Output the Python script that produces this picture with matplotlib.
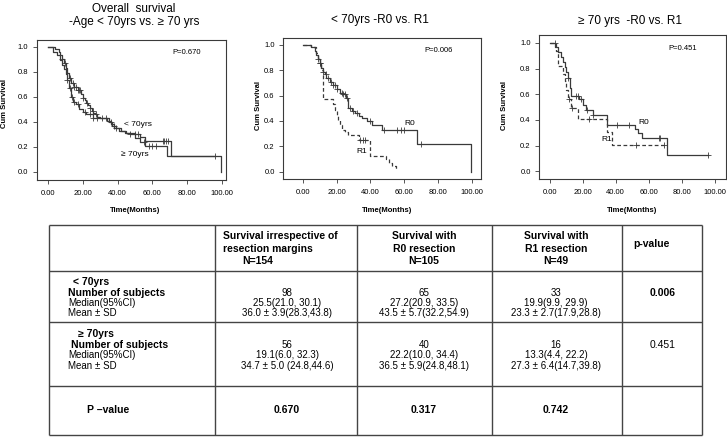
import matplotlib
matplotlib.use("Agg")
import matplotlib.pyplot as plt
import numpy as np

plt.rcParams['font.family'] = ['Liberation Sans', 'DejaVu Sans']

###DATA: ------------------------------------------------------------------------------------
# Kaplan-Meier steps (time in months, cum survival after the step)
# panel 1: overall survival by age
lt70_t = [0, 4, 6, 7, 8, 9, 10, 11, 12, 13, 15, 17, 19, 20, 21, 22, 23, 24, 25, 26,
          27, 28, 30, 35, 37, 39, 42, 44, 47, 53, 56, 70.5, 99.5]
lt70_s = [1.0, 0.98, 0.96, 0.93, 0.90, 0.87, 0.83, 0.79, 0.75, 0.71, 0.68, 0.65, 0.62, 0.59,
          0.57, 0.55, 0.53, 0.51, 0.49, 0.47, 0.46, 0.44, 0.43, 0.40, 0.37, 0.35, 0.33, 0.31,
          0.30, 0.28, 0.245, 0.13, 0.0]
lt70_cens = [8, 9.5, 12.5, 14, 15, 16, 17, 18, 18.5, 20, 22.5, 24, 25.5, 27.5, 36, 38, 47, 50,
             52, 66, 67, 68, 69]
lt70_end = 99.5

ge70_t = [0, 3, 5, 7, 8, 9, 10, 11, 12, 13, 14, 16, 18, 20, 22, 26, 34, 36, 38, 41,
          45, 50, 53, 56, 68.5]
ge70_s = [1.0, 0.96, 0.93, 0.89, 0.85, 0.82, 0.78, 0.73, 0.67, 0.60, 0.56, 0.54, 0.50, 0.48,
          0.46, 0.43, 0.41, 0.38, 0.35, 0.33, 0.31, 0.27, 0.24, 0.205, 0.13]
ge70_cens = [11, 12.5, 13.5, 15, 17, 21, 24, 26, 28, 31, 33, 39, 55, 58, 60, 62, 96]
ge70_end = 96

# panel 2: < 70yrs, R0 vs R1
lt70_r0_t = [0, 5, 7, 8, 9, 10, 11, 12, 13, 14, 16, 18, 20, 22, 24, 25.5, 26.5, 27, 29, 31,
             33, 35, 38, 41, 47, 67.5, 99.5]
lt70_r0_s = [1.0, 0.98, 0.95, 0.92, 0.89, 0.86, 0.82, 0.79, 0.77, 0.74, 0.71, 0.68, 0.65, 0.62,
             0.61, 0.58, 0.55, 0.50, 0.48, 0.46, 0.44, 0.42, 0.40, 0.37, 0.33, 0.22, 0.0]
lt70_r0_cens = [9, 10.5, 12, 13.5, 15, 16.5, 18, 19, 20.5, 23, 24, 25, 26, 28, 30, 32, 40, 48,
                56, 58, 60, 70]
lt70_r0_end = 99.5

lt70_r1_t = [0, 5, 8, 9, 10, 11, 12, 18, 19, 20, 21, 22, 23, 25, 27, 33, 40, 49, 51, 53, 55]
lt70_r1_s = [1.0, 0.98, 0.94, 0.90, 0.86, 0.80, 0.57, 0.53, 0.49, 0.45, 0.41, 0.37, 0.33, 0.31,
             0.29, 0.25, 0.125, 0.10, 0.07, 0.045, 0.02]
lt70_r1_cens = [10, 34, 35.5, 37]
lt70_r1_end = 55

# panel 3: >= 70yrs, R0 vs R1
ge70_r0_t = [0, 3, 5, 7, 8, 9, 10, 11, 12, 13, 18, 20, 22, 26, 34.5, 51.5, 53.5, 56, 71]
ge70_r0_s = [1.0, 0.97, 0.93, 0.89, 0.85, 0.81, 0.77, 0.73, 0.65, 0.59, 0.56, 0.52, 0.48, 0.44,
             0.36, 0.33, 0.30, 0.26, 0.13]
ge70_r0_cens = [11, 16, 17, 19, 22.5, 26, 41, 48, 66, 67, 96]
ge70_r0_end = 96

ge70_r1_t = [0, 4, 5, 8, 9, 10, 11, 13, 17, 35, 37.5]
ge70_r1_s = [1.0, 0.94, 0.82, 0.76, 0.70, 0.63, 0.56, 0.49, 0.41, 0.31, 0.205]
ge70_r1_cens = [3, 11.5, 13.5, 24, 52.5, 69]
ge70_r1_end = 69

p_logrank = ["P=0.670", "P=0.006", "P=0.451"]

# table
col_headers = [["Survival irrespective of", "resection margins", "N=154"],
               ["Survival with", "R0 resection", "N=105"],
               ["Survival with", "R1 resection", "N=49"]]
group_labels = ["< 70yrs", "\u2265 70yrs"]
stat_labels = ["Number of subjects", "Median(95%CI)", "Mean \u00b1 SD"]
lt70_cells = [["98", "25.5(21.0, 30.1)", "36.0 \u00b1 3.9(28.3,43.8)"],
              ["65", "27.2(20.9, 33.5)", "43.5 \u00b1 5.7(32.2,54.9)"],
              ["33", "19.9(9.9, 29.9)", "23.3 \u00b1 2.7(17.9,28.8)"]]
ge70_cells = [["56", "19.1(6.0, 32.3)", "34.7 \u00b1 5.0 (24.8,44.6)"],
              ["40", "22.2(10.0, 34.4)", "36.5 \u00b1 5.9(24.8,48.1)"],
              ["16", "13.3(4.4, 22.2)", "27.3 \u00b1 6.4(14.7,39.8)"]]
group_pvalues = ["0.006", "0.451"]
column_pvalues = ["0.670", "0.317", "0.742"]

###LAYOUT: ----------------------------------------------------------------------------------
W, H = 727, 437
LINE = '#3a3a3a'
fig = plt.figure(figsize=(W / 100, H / 100), dpi=100)


def px_axes(left, top, right, bottom):
    return fig.add_axes([left / W, 1 - bottom / H, (right - left) / W, (bottom - top) / H])


def km(ax, t, s, cens, end, dashed=False):
    tt = list(t) + [end]
    ss = list(s) + [s[-1]]
    ls = (0, (3, 2)) if dashed else '-'
    ax.step(tt, ss, where='post', color=LINE, lw=0.9, ls=ls)
    cy = [s[np.searchsorted(t, c, side='right') - 1] for c in cens]
    ax.plot(cens, cy, ls='none', marker='+', ms=4.5, mew=0.6, color=LINE)


def style(ax, xlim, ylim):
    ax.set_xlim(*xlim)
    ax.set_ylim(*ylim)
    ax.set_xticks([0, 20, 40, 60, 80, 100])
    ax.set_xticklabels(['0.00', '20.00', '40.00', '60.00', '80.00', '100.00'])
    ax.set_yticks([0, 0.2, 0.4, 0.6, 0.8, 1.0])
    ax.set_yticklabels(['0.0', '0.2', '0.4', '0.6', '0.8', '1.0'])
    ax.tick_params(direction='out', length=3, width=0.6, labelsize=5.5, color=LINE)
    ax.tick_params(axis='x', pad=4)
    ax.tick_params(axis='y', pad=3)
    for sp in ax.spines.values():
        sp.set_linewidth(0.8)
        sp.set_color(LINE)


ax1 = px_axes(36.5, 39.5, 226, 180)
ax2 = px_axes(283, 38, 481, 179)
ax3 = px_axes(539, 35, 726, 179)

km(ax1, lt70_t, lt70_s, lt70_cens, lt70_end)
km(ax1, ge70_t, ge70_s, ge70_cens, ge70_end)
style(ax1, (-6.8, 102.5), (-0.064, 1.056))
ax1.text(43.4, 0.376, "< 70yrs", fontsize=6, va='center')
ax1.text(41.7, 0.136, "\u2265 70yrs", fontsize=6, va='center')

km(ax2, lt70_r0_t, lt70_r0_s, lt70_r0_cens, lt70_r0_end)
km(ax2, lt70_r1_t, lt70_r1_s, lt70_r1_cens, lt70_r1_end, dashed=True)
style(ax2, (-11.6, 105.3), (-0.059, 1.055))
ax2.text(59.8, 0.38, "R0", fontsize=6, va='center')
ax2.text(31.5, 0.16, "R1", fontsize=6, va='center')

km(ax3, ge70_r0_t, ge70_r0_s, ge70_r0_cens, ge70_r0_end)
km(ax3, ge70_r1_t, ge70_r1_s, ge70_r1_cens, ge70_r1_end, dashed=True)
style(ax3, (-6.5, 106.8), (-0.06, 1.062))
ax3.text(54, 0.384, "R0", fontsize=6, va='center')
ax3.text(31, 0.244, "R1", fontsize=6, va='center')

for ax, p in zip([ax1, ax2, ax3], p_logrank):
    ax.text(71.6, 0.955, p, fontsize=5.5, va='center')

# titles + axis labels in pixel positions
def ftext(x, y, s, **kw):
    fig.text(x / W, 1 - y / H, s, **kw)

ftext(134, 9, "Overall  survival", fontsize=8.5, ha='center', va='center')
ftext(134, 22, "-Age < 70yrs vs. \u2265 70 yrs", fontsize=8.5, ha='center', va='center')
ftext(380, 20, "< 70yrs -R0 vs. R1", fontsize=8.5, ha='center', va='center')
ftext(630, 21, "\u2265 70 yrs  -R0 vs. R1", fontsize=8.5, ha='center', va='center')
for x, yc in [(5, 104), (258, 105), (505, 106)]:
    ftext(x, yc, "Cum Survival", fontsize=5.5, fontweight='bold', rotation=90,
          ha='center', va='center')
for x in [135.5, 387, 632]:
    ftext(x, 210, "Time(Months)", fontsize=5.5, fontweight='bold', ha='center', va='center')

###TABLE: -----------------------------------------------------------------------------------
tab = fig.add_axes([0, 0, 1, 1], zorder=-1)
tab.set_xlim(0, W)
tab.set_ylim(H, 0)
tab.axis('off')

col_edges = [49, 215, 357, 492, 622, 702]
row_edges = [225, 271, 322, 386, 435]
tab.vlines(col_edges, row_edges[0], row_edges[-1], color='#444444', lw=1)
tab.hlines(row_edges, col_edges[0], col_edges[-1], color='#444444', lw=1)

val_x = [287, 424, 556]
pval_x = 663
head_y = [236, 249, 261]

# header
tab.text(223, head_y[0], col_headers[0][0], fontsize=7.5, fontweight='bold', va='center')
tab.text(223, head_y[1], col_headers[0][1], fontsize=7.5, fontweight='bold', va='center')
tab.text(258, head_y[2], col_headers[0][2], fontsize=7.5, fontweight='bold', va='center', ha='center')
for j in [1, 2]:
    for k in range(3):
        tab.text(val_x[j], head_y[k], col_headers[j][k], fontsize=7.5, fontweight='bold',
                 ha='center', va='center')
tab.text(633, 244, "p-value", fontsize=7.5, fontweight='bold', va='center')

# body rows
row_y = [[282, 293, 303, 313], [334, 345, 355, 366]]
label_x = [[73, 68, 68, 68], [78, 71, 68, 68]]
for g, cells in enumerate([lt70_cells, ge70_cells]):
    ys = row_y[g]
    tab.text(label_x[g][0], ys[0], group_labels[g], fontsize=7.5, fontweight='bold', va='center')
    for k in range(3):
        tab.text(label_x[g][k + 1], ys[k + 1], stat_labels[k], fontsize=7.5 if k == 0 else 7,
                 fontweight='bold' if k == 0 else 'normal', va='center')
        for j in range(3):
            tab.text(val_x[j], ys[k + 1], cells[j][k], fontsize=7, ha='center', va='center')
    tab.text(pval_x, ys[1], group_pvalues[g], fontsize=7.5,
             fontweight='bold' if g == 0 else 'normal', ha='center', va='center')

tab.text(87, 410, "P \u2013value", fontsize=7.5, fontweight='bold', va='center')
for j in range(3):
    tab.text(val_x[j], 410, column_pvalues[j], fontsize=7.5, fontweight='bold',
             ha='center', va='center')

fig.savefig("out.png", dpi=100)
